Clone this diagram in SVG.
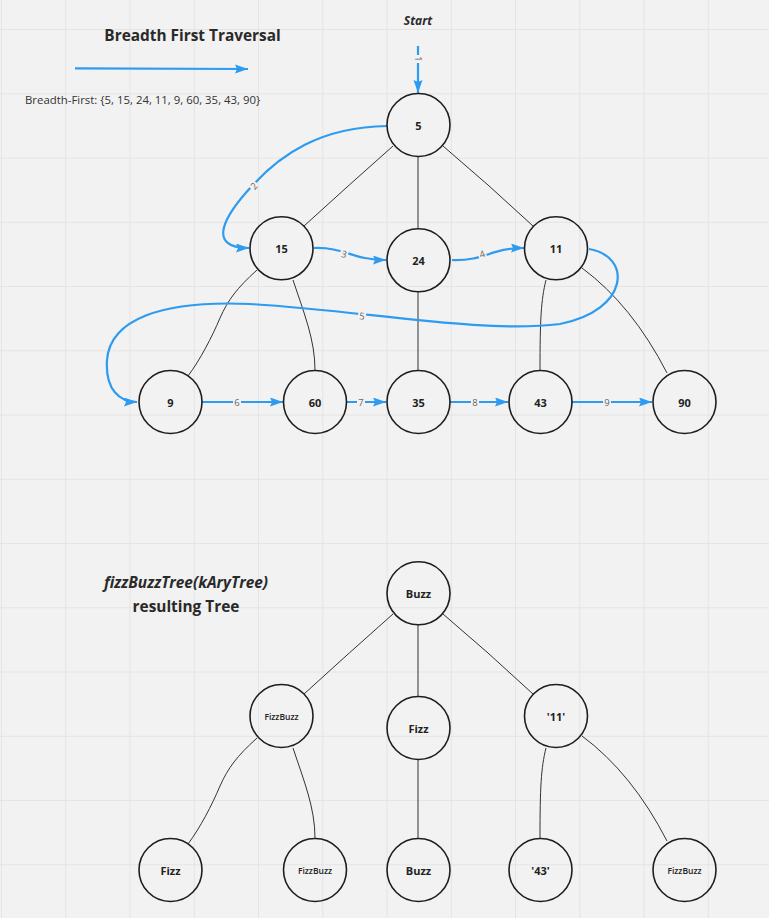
<svg xmlns="http://www.w3.org/2000/svg" width="769" height="918" viewBox="0 0 769 918">
<defs>
<style>
.grid line{stroke:#e4e4e4;stroke-width:1}
.node circle{fill:none;stroke:#1e1e1e;stroke-width:1.6}
.node text{font-family:"Open Sans","Liberation Sans",sans-serif;font-weight:700;font-size:11px;fill:#222;text-anchor:middle;dominant-baseline:central}
.node text.sm{font-size:8.5px;font-weight:600}
.tree path{fill:none;stroke:#333;stroke-width:1}
.blue path,.blue line{fill:none;stroke:#2d9bf0;stroke-width:2.2}
.lbl rect{fill:#f2f2f2}
.lbl text{font-family:"Open Sans","Liberation Sans",sans-serif;font-size:9.5px;fill:#666;text-anchor:middle;dominant-baseline:central}
.title{font-family:"Open Sans","Liberation Sans",sans-serif;font-weight:700;font-size:15.4px;fill:#2a2a2a;text-anchor:middle}
</style>
<marker id="ah" markerUnits="userSpaceOnUse" markerWidth="14" markerHeight="10" refX="13" refY="4.5" orient="auto">
<path d="M0,0 L13,4.5 L0,9 L2,4.5 z" fill="#2d9bf0"/>
</marker>
</defs>
<rect width="769" height="918" fill="#f2f2f2"/>
<g class="grid">
<line x1="1.5" y1="0" x2="1.5" y2="918"/>
<line x1="65.75" y1="0" x2="65.75" y2="918"/>
<line x1="130" y1="0" x2="130" y2="918"/>
<line x1="194.25" y1="0" x2="194.25" y2="918"/>
<line x1="258.5" y1="0" x2="258.5" y2="918"/>
<line x1="322.75" y1="0" x2="322.75" y2="918"/>
<line x1="387" y1="0" x2="387" y2="918"/>
<line x1="451.25" y1="0" x2="451.25" y2="918"/>
<line x1="515.5" y1="0" x2="515.5" y2="918"/>
<line x1="579.75" y1="0" x2="579.75" y2="918"/>
<line x1="644" y1="0" x2="644" y2="918"/>
<line x1="708.25" y1="0" x2="708.25" y2="918"/>
<line x1="0" y1="29.5" x2="769" y2="29.5"/>
<line x1="0" y1="93.75" x2="769" y2="93.75"/>
<line x1="0" y1="158" x2="769" y2="158"/>
<line x1="0" y1="222.25" x2="769" y2="222.25"/>
<line x1="0" y1="286.5" x2="769" y2="286.5"/>
<line x1="0" y1="350.75" x2="769" y2="350.75"/>
<line x1="0" y1="415" x2="769" y2="415"/>
<line x1="0" y1="479.25" x2="769" y2="479.25"/>
<line x1="0" y1="543.5" x2="769" y2="543.5"/>
<line x1="0" y1="607.75" x2="769" y2="607.75"/>
<line x1="0" y1="672" x2="769" y2="672"/>
<line x1="0" y1="736.25" x2="769" y2="736.25"/>
<line x1="0" y1="800.5" x2="769" y2="800.5"/>
<line x1="0" y1="864.75" x2="769" y2="864.75"/>
</g>

<g id="texts">
<text class="title" x="192.5" y="41">Breadth First Traversal</text>
<text x="25" y="104" font-family="'Open Sans','Liberation Sans',sans-serif" font-size="11.4" fill="#333">Breadth-First: {5, 15, 24, 11, 9, 60, 35, 43, 90}</text>
<text x="418" y="25" font-family="'Open Sans','Liberation Sans',sans-serif" font-size="12" font-weight="700" font-style="italic" fill="#2a2a2a" text-anchor="middle">Start</text>
<text class="title" x="186" y="588" font-style="italic" font-size="14.8">fizzBuzzTree(kAryTree)</text>
<text class="title" x="186" y="612">resulting Tree</text>
</g>

<g id="connectors">
<g class="tree">
<path d="M393,146 Q350,184 304,226"/>
<path d="M418,157 L418,228"/>
<path d="M443,146 Q488,184 533,226"/>
<path d="M257,270 C237,288 228,300 220,318 C212,337 200,360 188,376"/>
<path d="M293,280 C304,313 315,340 315,370"/>
<path d="M418,292 L418,370"/>
<path d="M546,280 C541,300 540,320 540,370"/>
<path d="M582,268 Q632,305 667,373"/>

<path d="M393,614 Q350,652 304,694"/>
<path d="M418,625 L418,696"/>
<path d="M443,614 Q488,652 533,694"/>
<path d="M257,738 C237,756 228,768 220,786 C212,805 200,828 188,844"/>
<path d="M293,748 C304,781 315,808 315,838"/>
<path d="M418,760 L418,838"/>
<path d="M546,748 C541,768 540,788 540,838"/>
<path d="M582,736 Q632,773 667,841"/>
</g>
<g class="blue">
<line x1="75" y1="68.3" x2="248" y2="69" marker-end="url(#ah)"/>
<line x1="418" y1="46" x2="418" y2="93" marker-end="url(#ah)"/>
<path d="M387,126 C320,127 280,155 252,186 C225,215 205,248 249,248" marker-end="url(#ah)"/>
<path d="M314,248 C345,247 352,260 386,260" marker-end="url(#ah)"/>
<path d="M452,260 C486,261 490,248 524,248" marker-end="url(#ah)"/>
<path d="M589,249 C632,256 630,310 560,324 C480,334 360,310 250,304 C160,300 110,320 107,360 C105,390 120,402 137,402" marker-end="url(#ah)"/>
<line x1="202" y1="402" x2="283" y2="402" marker-end="url(#ah)"/>
<line x1="347" y1="402" x2="386" y2="402" marker-end="url(#ah)"/>
<line x1="450" y1="402" x2="508" y2="402" marker-end="url(#ah)"/>
<line x1="572" y1="402" x2="652" y2="402" marker-end="url(#ah)"/>
</g>
<g class="lbl">
<g transform="translate(418,59) rotate(90)"><rect x="-4" y="-4" width="8" height="8"/><text>1</text></g>
<g transform="translate(254,186) rotate(-48)"><rect x="-4" y="-4" width="8" height="8"/><text>2</text></g>
<g transform="translate(344,254) rotate(15)"><rect x="-4" y="-4" width="8" height="8"/><text>3</text></g>
<g transform="translate(482,254) rotate(-20)"><rect x="-4" y="-4" width="8" height="8"/><text>4</text></g>
<g transform="translate(362,316) rotate(5)"><rect x="-4" y="-4" width="8" height="8"/><text>5</text></g>
<g transform="translate(237,402)"><rect x="-4" y="-4" width="8" height="8"/><text>6</text></g>
<g transform="translate(361,402)"><rect x="-4" y="-4" width="8" height="8"/><text>7</text></g>
<g transform="translate(475,402)"><rect x="-4" y="-4" width="8" height="8"/><text>8</text></g>
<g transform="translate(607,402)"><rect x="-4" y="-4" width="8" height="8"/><text>9</text></g>
</g>
</g>

<g id="n5" class="node"><circle cx="418.5" cy="125" r="31.5"/><text x="418.5" y="125">5</text></g>
<g id="n15" class="node"><circle cx="281.5" cy="248.3" r="31.5"/><text x="281.5" y="248.3">15</text></g>
<g id="n24" class="node"><circle cx="418.5" cy="260.3" r="31.5"/><text x="418.5" y="260.3">24</text></g>
<g id="n11" class="node"><circle cx="556" cy="248.3" r="31.5"/><text x="556" y="248.3">11</text></g>
<g id="n9" class="node"><circle cx="170.5" cy="402" r="31.5"/><text x="170.5" y="402">9</text></g>
<g id="n60" class="node"><circle cx="315" cy="402" r="31.5"/><text x="315" y="402">60</text></g>
<g id="n35" class="node"><circle cx="418.5" cy="402" r="31.5"/><text x="418.5" y="402">35</text></g>
<g id="n43" class="node"><circle cx="540.5" cy="402" r="31.5"/><text x="540.5" y="402">43</text></g>
<g id="n90" class="node"><circle cx="684.5" cy="402" r="31.5"/><text x="684.5" y="402">90</text></g>

<g id="fBuzz" class="node"><circle cx="418.5" cy="593.3" r="31.5"/><text x="418.5" y="593.3">Buzz</text></g>
<g id="fFizzBuzz1" class="node"><circle cx="281.5" cy="716" r="31.5"/><text class="sm" x="281.5" y="716">FizzBuzz</text></g>
<g id="fFizz1" class="node"><circle cx="418.5" cy="728" r="31.5"/><text x="418.5" y="728">Fizz</text></g>
<g id="f11" class="node"><circle cx="556" cy="716" r="31.5"/><text x="556" y="716">'11'</text></g>
<g id="fFizz2" class="node"><circle cx="170.5" cy="870" r="31.5"/><text x="170.5" y="870">Fizz</text></g>
<g id="fFizzBuzz2" class="node"><circle cx="315" cy="870" r="31.5"/><text class="sm" x="315" y="870">FizzBuzz</text></g>
<g id="fBuzz2" class="node"><circle cx="418.5" cy="870" r="31.5"/><text x="418.5" y="870">Buzz</text></g>
<g id="f43" class="node"><circle cx="540.5" cy="870" r="31.5"/><text x="540.5" y="870">'43'</text></g>
<g id="fFizzBuzz3" class="node"><circle cx="684.5" cy="870" r="31.5"/><text class="sm" x="684.5" y="870">FizzBuzz</text></g>
</svg>
